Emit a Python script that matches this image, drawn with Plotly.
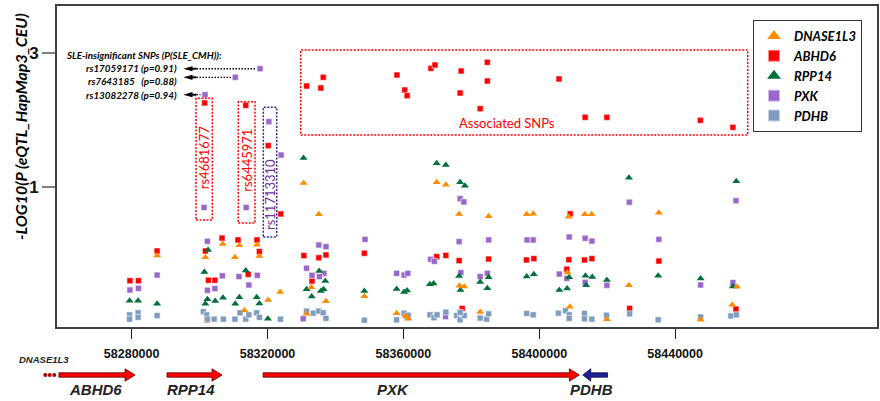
import math
import plotly.graph_objects as go

# ---------------- data (position in kb on chr3, -log10 P of eQTL) ----------------
DNASE1L3_POS = [58287.5, 58301.7, 58306.8, 58311.7, 58316.9, 58317.6, 58310.4, 58320.2, 58323.7, 58313.2,
                58335.1, 58332.9, 58337.2, 58331.5, 58330.6, 58348.5, 58358.0, 58360.6, 58361.4, 58369.8,
                58372.5, 58376.4, 58385.1, 58396.3, 58398.2, 58376.5, 58377.9, 58382.6, 58408.7, 58408.3,
                58409.0, 58413.4, 58415.4, 58419.9, 58426.4, 58435.2, 58447.5, 58458.2, 58456.8]
DNASE1L3_P = [0.568, 0.559, 0.624, 0.617, 0.620, 0.565, 0.559, 0.393, 0.420, 0.361,
              0.797, 0.437, 0.389, 0.351, 1.031, 0.406, 0.353, 0.345, 0.337, 1.037,
              1.017, 0.799, 0.784, 0.797, 0.800, 0.442, 0.440, 0.356, 0.781, 0.493,
              0.372, 0.797, 0.797, 0.336, 0.444, 0.807, 0.334, 0.439, 0.378]

ABHD6_POS = [58279.5, 58282.0, 58287.5, 58301.7, 58306.6, 58311.3, 58316.9, 58317.6, 58302.6, 58304.5,
             58314.3, 58302.2, 58330.7, 58335.1, 58337.2, 58333.1, 58323.9, 58301.5, 58313.6, 58320.2,
             58348.5, 58369.8, 58372.5, 58376.4, 58385.1, 58396.2, 58398.4, 58377.3, 58409.1, 58408.7,
             58408.1, 58413.3, 58415.5, 58426.6, 58435.2, 58457.9,
             58331.5, 58336.4, 58335.7, 58358.1, 58360.4, 58361.1, 58368.1, 58369.3, 58377.0, 58376.7,
             58384.7, 58384.7, 58382.6, 58405.8, 58413.5, 58419.9, 58447.4, 58457.0]
ABHD6_P = [0.461, 0.461, 0.589, 0.589, 0.655, 0.645, 0.645, 0.586, 0.463, 0.463,
           0.486, 0.334, 0.567, 0.557, 0.570, 0.460, 0.799, 1.993, 1.955, 1.402,
           0.578, 0.562, 0.568, 0.544, 0.551, 0.547, 0.553, 0.367, 0.800, 0.548,
           0.507, 0.547, 0.553, 0.367, 0.542, 0.365,
           2.292, 2.462, 2.254, 2.509, 2.217, 2.116, 2.651, 2.725, 2.593, 2.163,
           2.786, 2.388, 1.901, 2.428, 1.771, 1.771, 1.728, 1.631]

RPP14_POS = [58279.4, 58281.9, 58287.5, 58302.5, 58301.4, 58313.6, 58302.3, 58301.7, 58304.6, 58306.9,
             58311.7, 58310.5, 58316.8, 58317.6, 58320.1, 58330.6, 58335.2, 58337.0, 58331.5, 58335.7,
             58336.5, 58333.0, 58348.5, 58358.0, 58360.2, 58361.1, 58369.8, 58372.5, 58376.7, 58378.1,
             58376.4, 58376.8, 58385.1, 58382.6, 58384.7, 58396.3, 58367.8, 58368.9, 58398.4, 58408.8,
             58405.9, 58408.2, 58413.6, 58415.6, 58413.8, 58419.9, 58426.4, 58435.0, 58447.5, 58458.0,
             58457.0]
RPP14_P = [0.391, 0.391, 0.381, 0.594, 0.495, 0.501, 0.396, 0.381, 0.390, 0.401,
           0.402, 0.381, 0.402, 0.382, 0.337, 1.267, 0.499, 0.460, 0.430, 0.424,
           0.430, 0.405, 0.424, 0.431, 0.420, 0.425, 1.212, 1.196, 1.037, 1.008,
           0.479, 0.427, 0.474, 0.456, 0.433, 0.477, 0.448, 0.451, 0.486, 0.474,
           0.427, 0.432, 0.480, 0.475, 0.444, 0.464, 1.077, 0.480, 0.470, 1.046,
           0.440]

PXK_POS = [58279.5, 58282.0, 58287.5, 58302.3, 58306.7, 58311.6, 58314.5, 58317.0, 58302.3, 58304.5,
           58301.3, 58313.7, 58317.8, 58310.5, 58301.6, 58320.4, 58324.0, 58335.1, 58337.2, 58331.5,
           58333.1, 58336.6, 58335.3, 58330.5, 58348.7, 58358.0, 58360.2, 58361.3, 58376.7, 58377.8,
           58376.4, 58385.1, 58396.4, 58368.0, 58369.1, 58376.9, 58382.6, 58384.7, 58372.4, 58398.2,
           58408.8, 58405.9, 58408.1, 58413.5, 58415.5, 58413.5, 58419.9, 58426.5, 58435.2, 58447.5,
           58457.9, 58457.0]
PXK_P = [0.427, 0.433, 0.483, 0.638, 0.480, 0.477, 0.445, 0.482, 0.426, 0.432,
         0.843, 0.843, 2.642, 2.462, 2.133, 1.708, 1.298, 0.619, 0.610, 0.511,
         0.482, 0.490, 0.477, 0.337, 0.648, 0.490, 0.483, 0.490, 0.906, 0.882,
         0.636, 0.645, 0.645, 0.550, 0.541, 0.493, 0.477, 0.490, 0.343, 0.645,
         0.661, 0.487, 0.470, 0.654, 0.639, 0.455, 0.444, 0.880, 0.648, 0.445,
         0.891, 0.454]

PDHB_POS = [58279.4, 58279.4, 58281.9, 58281.9, 58287.5, 58301.1, 58302.1, 58302.3, 58304.3, 58307.0,
            58310.4, 58311.9, 58313.6, 58314.5, 58316.8, 58317.6, 58323.8, 58331.5, 58333.5, 58335.1,
            58336.4, 58337.2, 58348.5, 58358.0, 58360.2, 58361.0, 58361.4, 58367.8, 58369.0, 58369.9,
            58372.5, 58375.7, 58376.7, 58377.9, 58376.7, 58382.6, 58384.5, 58385.1, 58396.3, 58398.2,
            58405.6, 58407.7, 58408.8, 58408.8, 58413.3, 58413.3, 58415.5, 58419.8, 58426.6, 58435.0,
            58447.5, 58456.4, 58458.0]
PDHB_P = [0.348, 0.336, 0.354, 0.341, 0.346, 0.357, 0.348, 0.336, 0.336, 0.336,
          0.336, 0.354, 0.336, 0.348, 0.354, 0.341, 0.336, 0.359, 0.353, 0.359,
          0.354, 0.338, 0.333, 0.334, 0.353, 0.343, 0.347, 0.348, 0.340, 0.348,
          0.356, 0.346, 0.334, 0.346, 0.355, 0.339, 0.336, 0.351, 0.352, 0.348,
          0.353, 0.360, 0.348, 0.338, 0.352, 0.337, 0.336, 0.347, 0.351, 0.334,
          0.342, 0.345, 0.348]

X_TICKS = [58280000, 58320000, 58360000, 58400000, 58440000]
Y_TICKS = [1, 3]

# SLE-insignificant SNPs (indices into PXK arrays)
INSIG_IDX = [12, 13, 14]
INSIG_LABELS = ["rs17059171 (p=0.91)", "rs7643185\u00a0\u00a0\u00a0(p=0.88)", "rs13082278 (p=0.94)"]

# gene track (kb)
GENE_NAMES = ["ABHD6", "RPP14", "PXK", "PDHB"]
GENE_START = [58258.6, 58290.4, 58318.7, 58420.1]
GENE_END = [58281.0, 58306.6, 58411.8, 58412.8]
GENE_LABEL_POS = [58269.4, 58297.6, 58356.8, 58415.5]
GENE_COLORS = ["#FF0000", "#FF0000", "#FF0000", "#1E1E96"]

# ---------------- layout geometry ----------------
W, H = 880, 401
ML, MR, MT, MB = 57, 3, 6, 74
PW, PH = W - ML - MR, H - MT - MB
XR = [58258027, 58499417]
YR = [-0.5018, 0.6463]


def fx(px):
    return (px - ML) / PW


def fy(py):
    return (H - MB - py) / PH


def dx(kb):
    return (kb * 1000 - XR[0]) / (XR[1] - XR[0])


def dy(v):
    return (math.log10(v) - YR[0]) / (YR[1] - YR[0])


CAL = "Lato, 'Open Sans', sans-serif"
ARI = "'Liberation Sans', Arial, sans-serif"

fig = go.Figure()

series = [
    ("ABHD6", ABHD6_POS, ABHD6_P, "square", "#FF0000", 2),
    ("PXK", PXK_POS, PXK_P, "square", "#9966CC", 4),
    ("RPP14", RPP14_POS, RPP14_P, "triangle-up", "#00703C", 3),
    ("PDHB", PDHB_POS, PDHB_P, "square", "#7F9CC0", 5),
    ("DNASE1L3", DNASE1L3_POS, DNASE1L3_P, "triangle-up", "#FF8C00", 1),
]
for name, pos, pv, sym, col, rank in series:
    is_sq = sym == "square"
    fig.add_trace(go.Scatter(
        x=[p * 1000 for p in pos], y=pv, mode="markers", name="<b><i>%s</i></b>" % name,
        legendrank=rank,
        marker=dict(symbol=sym, size=6 if is_sq else 7, color=col,
                    line=dict(width=1 if is_sq else 0, color="rgba(255,255,255,0.55)")),
    ))

shapes = []
annotations = []


def note(text, px, py, size, color="#000", family=CAL, angle=0, xanchor="center"):
    annotations.append(dict(text=text, xref="paper", yref="paper", x=fx(px), y=fy(py),
                            xanchor=xanchor, yanchor="middle", textangle=angle, showarrow=False,
                            font=dict(family=family, size=size, color=color)))


# associated SNPs box
shapes.append(dict(type="rect", xref="paper", yref="paper", x0=fx(300.7), x1=fx(747.7), y0=fy(135), y1=fy(50),
                   line=dict(color="#FF0000", width=1.5, dash="2px,1.5px")))
note("Associated SNPs", 507, 123.3, 13, "#FF0000")

# rs boxes
for (x0, x1, y0, y1, col, label, tx, ty, tcol) in [
    (196, 212.3, 220, 98.3, "#FF0000", "rs4681677", 204.2, 157, "#FF0000"),
    (238.3, 255, 223, 101.7, "#FF0000", "rs6445971", 246.7, 160, "#FF0000"),
    (263.3, 276.7, 237, 107.3, "#2E2E8A", "rs11713310", 270, 195, "#7030A0"),
]:
    shapes.append(dict(type="rect", xref="paper", yref="paper", x0=fx(x0), x1=fx(x1), y0=fy(y0), y1=fy(y1),
                       line=dict(color=col, width=1.5, dash="2px,1.5px")))
    note(label, tx, ty, 13, tcol, angle=-90)

# SLE-insignificant SNP labels and arrows
note("<b><i>SLE-insignificant SNPs (P(SLE_CMH)):</i></b>", 64, 55, 9.8, xanchor="left")
TEXT_Y = [68.3, 81.3, 95]
for k, (idx, lab) in enumerate(zip(INSIG_IDX, INSIG_LABELS)):
    yv = dy(PXK_P[idx])
    xe = dx(PXK_POS[idx]) - 4.5 / PW
    note("<b><i>%s</i></b>" % lab, 178.5, TEXT_Y[k], 9.8, xanchor="right")
    hh = 2.6 / PH
    shapes.append(dict(type="path", xref="paper", yref="paper",
                       path="M %f,%f L %f,%f L %f,%f Z" % (fx(183.3), yv, fx(192.5), yv + hh, fx(192.5), yv - hh),
                       fillcolor="#000", line=dict(width=0)))
    shapes.append(dict(type="line", xref="paper", yref="paper", x0=fx(192), x1=fx(196.5), y0=yv, y1=yv,
                       line=dict(color="#000", width=2)))
    shapes.append(dict(type="line", xref="paper", yref="paper", x0=fx(196.5), x1=xe, y0=yv, y1=yv,
                       line=dict(color="#000", width=1.3, dash="1.5px,1.5px")))

# y-axis title
note("<b><i>-LOG10(P (eQTL_HapMap3_CEU)</i></b>", 20, 127, 16, angle=-90)

# gene track
yc = fy(375)
sh, hh = 2.2 / PH, 6.2 / PH
for name, s, e, lp, col in zip(GENE_NAMES, GENE_START, GENE_END, GENE_LABEL_POS, GENE_COLORS):
    xs, xe = dx(s), dx(e)
    hl = (10 if e > s else 8) / PW
    d = 1 if e > s else -1
    xb = xe - d * hl
    path = ("M %f,%f L %f,%f L %f,%f L %f,%f L %f,%f L %f,%f L %f,%f Z" %
            (xs, yc - sh, xb, yc - sh, xb, yc - hh, xe, yc, xb, yc + hh, xb, yc + sh, xs, yc + sh))
    shapes.append(dict(type="path", xref="paper", yref="paper", path=path, fillcolor=col,
                       line=dict(color="#5A0000" if col == "#FF0000" else "#0A0A50", width=0.8)))
    annotations.append(dict(text="<b><i>%s</i></b>" % name, xref="paper", yref="paper", x=dx(lp), y=fy(390),
                            xanchor="center", yanchor="middle", showarrow=False,
                            font=dict(family=ARI, size=15, color="#222")))

# DNASE1L3 continuation dots
for pxd in [45.3, 49.8, 54.3]:
    shapes.append(dict(type="circle", xref="paper", yref="paper", x0=fx(pxd - 2), x1=fx(pxd + 2),
                       y0=fy(375 + 2), y1=fy(375 - 2), fillcolor="#B00000", line=dict(width=0)))
note("<b><i>DNASE1L3</i></b>", 44, 360, 9.5, "#222", family=ARI)

fig.update_layout(
    width=W, height=H, margin=dict(l=ML, r=MR, t=MT, b=MB, pad=0, autoexpand=False),
    paper_bgcolor="white", plot_bgcolor="white",
    shapes=shapes, annotations=annotations,
    showlegend=True,
    legend=dict(x=fx(753), y=fy(20), xanchor="left", yanchor="top", bgcolor="white",
                bordercolor="#333", borderwidth=1, itemsizing="constant",
                font=dict(family=CAL, size=13, color="#000"), tracegroupgap=0),
    xaxis=dict(range=XR, tickvals=X_TICKS, ticktext=["<b>%d</b>" % t for t in X_TICKS],
               ticks="outside", ticklen=10, tickwidth=1, tickcolor="#222", ticklabelstandoff=4,
               tickfont=dict(family=ARI, size=12.5, color="#111"),
               showline=True, linecolor="#404040", linewidth=2, mirror=True,
               showgrid=False, zeroline=False),
    yaxis=dict(type="log", range=YR, tickvals=Y_TICKS, ticktext=["<b>%d</b>" % t for t in Y_TICKS],
               ticks="outside", ticklen=13, tickwidth=2, tickcolor="#808080",
               tickfont=dict(family=ARI, size=17, color="#111"),
               showline=True, linecolor="#404040", linewidth=2, mirror=True,
               showgrid=False, zeroline=False),
)

fig.write_html("out.html", config={"displayModeBar": False},
               post_script="document.body.style.margin='0';document.body.style.padding='0';")
